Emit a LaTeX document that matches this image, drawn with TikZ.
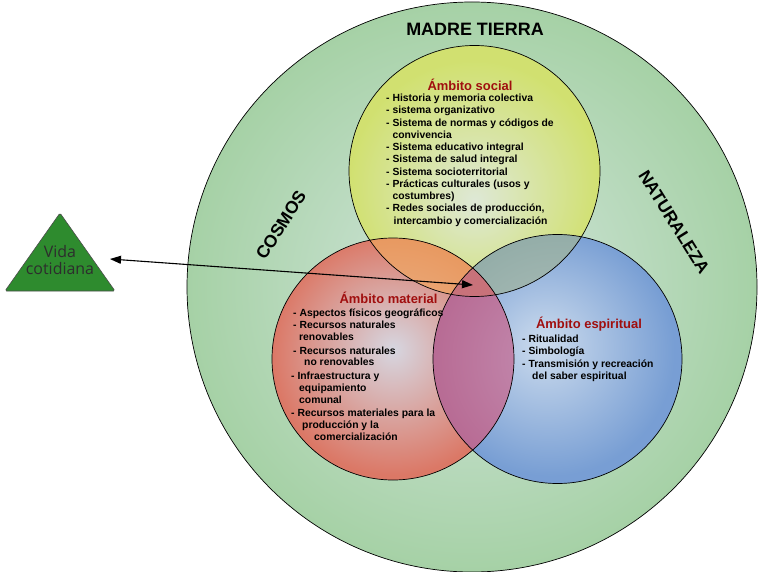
\documentclass[tikz,border=0pt]{standalone}
\usepackage{fontspec}
\setmainfont{Liberation Sans}
\newfontfamily\trifont{Open Sans}
\usetikzlibrary{arrows.meta}

\definecolor{titlered}{RGB}{160,14,14}
\definecolor{trigreen}{RGB}{46,139,46}
\definecolor{tritext}{RGB}{45,45,45}

% radial fills for the four circles and the overlaps
\pgfdeclareradialshading{earthfill}{\pgfpoint{0bp}{0bp}}{rgb(0bp)=(0.83,0.90,0.87); rgb(25bp)=(0.65,0.82,0.65); rgb(50bp)=(0.65,0.82,0.65)}
\pgfdeclareradialshading{socialfill}{\pgfpoint{0bp}{-6bp}}{rgb(0bp)=(0.87,0.91,0.84); rgb(25bp)=(0.82,0.88,0.44); rgb(50bp)=(0.82,0.88,0.44)}
\pgfdeclareradialshading{materialfill}{\pgfpoint{0bp}{2bp}}{rgb(0bp)=(0.84,0.84,0.88); rgb(25bp)=(0.86,0.47,0.40); rgb(50bp)=(0.86,0.47,0.40)}
\pgfdeclareradialshading{spiritfill}{\pgfpoint{-3bp}{3bp}}{rgb(0bp)=(0.80,0.86,0.93); rgb(25bp)=(0.47,0.62,0.83); rgb(50bp)=(0.47,0.62,0.83)}
\pgfdeclareradialshading{lensorange}{\pgfpoint{0bp}{0bp}}{rgb(0bp)=(0.93,0.72,0.56); rgb(25bp)=(0.91,0.60,0.38); rgb(50bp)=(0.91,0.60,0.38)}
\pgfdeclareradialshading{lensgrey}{\pgfpoint{0bp}{0bp}}{rgb(0bp)=(0.70,0.76,0.74); rgb(25bp)=(0.58,0.68,0.66); rgb(50bp)=(0.58,0.68,0.66)}
\pgfdeclareradialshading{lensmauve}{\pgfpoint{0bp}{0bp}}{rgb(0bp)=(0.77,0.56,0.70); rgb(25bp)=(0.72,0.42,0.58); rgb(50bp)=(0.72,0.42,0.58)}

\tikzset{
  ring/.style={draw=black, line width=0.7bp},
  areatitle/.style={font=\fontsize{13}{15}\selectfont\bfseries, text=titlered, inner sep=0pt},
  itemlist/.style={font=\fontsize{10.4}{12.3}\selectfont\bfseries, align=left, anchor=north west, inner sep=0pt},
  realm/.style={font=\fontsize{17.5}{19}\selectfont\bfseries, inner sep=0pt},
  link/.style={line width=1.1bp, {Triangle[length=11bp,width=8bp]}-{Triangle[length=11bp,width=8bp]}}
}

\begin{document}
\begin{tikzpicture}[x=1bp, y=-1bp]
\useasboundingbox (0,0) rectangle (758,572);

% circle centres
\coordinate (E) at (472,287);
\coordinate (S) at (474.5,171);
\coordinate (M) at (393,359);
\coordinate (P) at (557.5,359);

% Madre Tierra
\shade[shading=earthfill] (E) circle (285);

% the three realms
\shade[shading=socialfill] (S) circle (125.5);
\shade[shading=spiritfill] (P) circle (124.5);
\shade[shading=materialfill] (M) circle (121);

% overlaps
\begin{scope}
  \clip (S) circle (125.5);
  \shade[shading=lensorange] (M) circle (121);
\end{scope}
\begin{scope}
  \clip (S) circle (125.5);
  \shade[shading=lensgrey] (P) circle (124.5);
\end{scope}
\begin{scope}
  \clip (M) circle (121);
  \shade[shading=lensmauve] (P) circle (124.5);
\end{scope}
\begin{scope}
  \clip (S) circle (125.5);
  \clip (M) circle (121);
  \fill[color={rgb,255:red,200;green,114;blue,122}] (P) circle (124.5);
\end{scope}

% outlines
\draw[ring] (E) circle (285);
\draw[ring] (S) circle (125.5);
\draw[ring] (P) circle (124.5);
\draw[ring] (M) circle (121);

% outer labels
\node[realm, font=\fontsize{18}{20}\selectfont\bfseries] (madre) at (475,29) {MADRE TIERRA};
\node[realm, rotate=57.5] (cosmos) at (281,225) {COSMOS};
\node[realm, rotate=-58] (naturaleza) at (674,222) {NATURALEZA};

% Ambito social
\node[areatitle] (tsocial) at (470,85) {Ámbito social};
\node[itemlist] (lsocial) at (386,94) {%
- Historia y memoria colectiva\\
- sistema organizativo\\
- Sistema de normas y códigos de\\
\hspace*{6.3bp}convivencia\\
- Sistema educativo integral\\
- Sistema de salud integral\\
- Sistema socioterritorial\\
- Prácticas culturales (usos y\\
\hspace*{6.3bp}costumbres)\\
- Redes sociales de producción,\\
\hspace*{7.5bp}intercambio y comercialización};

% Ambito material
\node[areatitle] (tmaterial) at (388.5,298) {Ámbito material};
\node[itemlist, font=\fontsize{10.4}{11.8}\selectfont\bfseries] (lmaterial) at (291,309) {%
\hspace*{2bp}- Aspectos físicos geográficos\\
\hspace*{2bp}- Recursos naturales\\
\hspace*{8bp}renovables\\[2bp]
\hspace*{2bp}- Recursos naturales\\
\hspace*{13bp}no renovables\\[2bp]
- Infraestructura y\\
\hspace*{8bp}equipamiento\\
\hspace*{8bp}comunal\\[2bp]
- Recursos materiales para la\\
\hspace*{11bp}producción y la\\
\hspace*{23bp}comercialización};

% Ambito espiritual
\node[areatitle] (tspirit) at (589,324) {Ámbito espiritual};
\node[itemlist] (lspirit) at (522,335) {%
- Ritualidad\\
- Simbología\\
- Transmisión y recreación\\
\hspace*{10bp}del saber espiritual};

% Vida cotidiana
\coordinate (tapex) at (60,213);
\coordinate (tright) at (115,291);
\coordinate (tleft) at (5,291);
\filldraw[fill=trigreen, draw=black!70, line width=0.6bp, rounded corners=1.5bp]
  (tapex) -- (tright) -- (tleft) -- cycle;
\node[font=\trifont\fontsize{16}{17}\selectfont, text=tritext, align=center, inner sep=0pt] (vida) at (60,260) {Vida\\cotidiana};

% link between daily life and the common core
\coordinate (vtip) at (110,259);
\coordinate (hub) at (473,285);
\draw[link] (vtip) -- (hub);

\end{tikzpicture}
\end{document}
